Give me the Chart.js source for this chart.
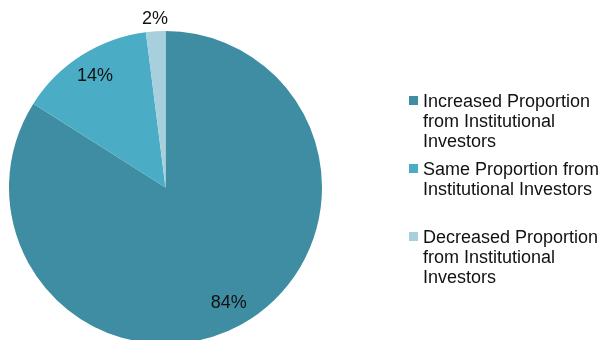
<!DOCTYPE html>
<html>
<head>
<meta charset="utf-8">
<script src="https://cdn.jsdelivr.net/npm/chart.js@4.4.1/dist/chart.umd.min.js"></script>
<style>
  html, body { margin: 0; padding: 0; background: #fff; overflow: hidden; }
  #wrap { position: absolute; left: 0; top: 0; width: 600px; height: 350px; }
</style>
</head>
<body>
<div id="wrap"><canvas id="myChart" width="600" height="350"></canvas></div>
<script>
// Share of investors by change in institutional proportion
const categories = [
    "Increased Proportion from Institutional Investors",
    "Same Proportion from Institutional Investors",
    "Decreased Proportion from Institutional Investors"
];
const shares = [84, 14, 2];
const sliceColors = ["#3e8da2", "#4bacc6", "#a8cfdc"];

const FONT = "18px 'Liberation Sans', Arial, sans-serif";

// percentage labels on (or just outside) each slice
const sliceLabels = {
    id: "sliceLabels",
    afterDatasetsDraw(chart) {
        const ctx = chart.ctx;
        const arcs = chart.getDatasetMeta(0).data;
        ctx.save();
        ctx.font = FONT;
        ctx.fillStyle = "#111";
        ctx.textAlign = "center";
        ctx.textBaseline = "middle";
        arcs.forEach((arc, i) => {
            const mid = (arc.startAngle + arc.endAngle) / 2;
            const k = shares[i] < 5 ? 1.08 : 0.84;
            const x = arc.x + Math.cos(mid) * arc.outerRadius * k;
            const y = arc.y + Math.sin(mid) * arc.outerRadius * k;
            ctx.fillText(shares[i] + "%", x, y);
        });
        ctx.restore();
    }
};

// legend on the right with wrapped text
const sideLegend = {
    id: "sideLegend",
    afterDraw(chart) {
        const ctx = chart.ctx;
        const left = 409, textX = 423, maxW = 182;
        const top = 94, step = 68, lineH = 20;
        ctx.save();
        ctx.font = FONT;
        ctx.textBaseline = "alphabetic";
        categories.forEach((label, i) => {
            const lines = [];
            let cur = "";
            label.split(" ").forEach(w => {
                const t = cur ? cur + " " + w : w;
                if (ctx.measureText(t).width > maxW && cur) {
                    lines.push(cur);
                    cur = w;
                } else {
                    cur = t;
                }
            });
            lines.push(cur);
            const y0 = top + i * step;
            ctx.fillStyle = sliceColors[i];
            ctx.fillRect(left, y0 + 2, 9, 9);
            ctx.fillStyle = "#111";
            lines.forEach((ln, j) => ctx.fillText(ln, textX, y0 + 13 + j * lineH));
        });
        ctx.restore();
    }
};

const ctx = document.getElementById("myChart").getContext("2d");
const chart = new Chart(ctx, {
    type: "pie",
    data: {
        labels: categories,
        datasets: [{
            data: shares,
            backgroundColor: sliceColors,
            borderWidth: 0
        }]
    },
    options: {
        responsive: false,
        animation: false,
        layout: { padding: { left: 9, right: 278, top: 31, bottom: 6 } },
        plugins: {
            legend: { display: false },
            tooltip: { enabled: false }
        }
    },
    plugins: [sliceLabels, sideLegend]
});
</script>
</body>
</html>
